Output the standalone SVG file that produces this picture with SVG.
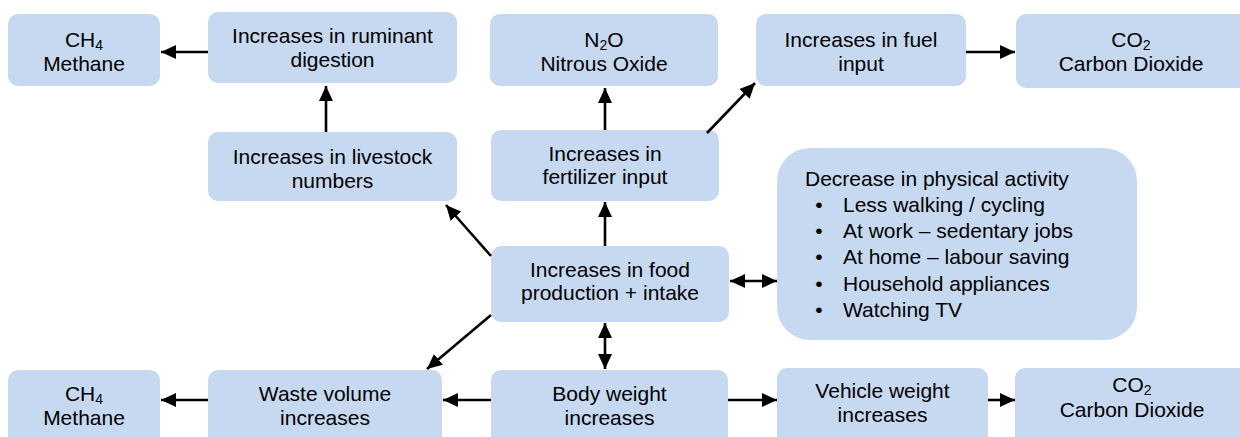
<svg xmlns="http://www.w3.org/2000/svg" width="1240" height="437" viewBox="0 0 1240 437">
<style>
.box{fill:#c6d9f0;}
text{font-family:"Liberation Sans",Arial,sans-serif;font-size:21px;fill:#000;}
.c{text-anchor:middle;}
.sub{font-size:14px;}
.conn line{stroke:#000;stroke-width:2.6;fill:none;}
</style>
<defs>
<marker id="ah" markerUnits="userSpaceOnUse" markerWidth="15" markerHeight="14" refX="15" refY="7" orient="auto-start-reverse" viewBox="0 0 15 14">
<path d="M0,0 L15,7 L0,14 z" fill="#000"/>
</marker>
</defs>
<rect width="1240" height="437" fill="#fff"/>

<g id="ch4-top">
<rect class="box" x="8" y="14" width="152" height="72" rx="10"/>
<text class="c" x="84" y="47">CH<tspan class="sub" dy="3">4</tspan></text>
<text class="c" x="84" y="71">Methane</text>
</g>
<g id="ruminant">
<rect class="box" x="208" y="12" width="249" height="71" rx="10"/>
<text class="c" x="332.5" y="43">Increases in ruminant</text>
<text class="c" x="332.5" y="67">digestion</text>
</g>
<g id="livestock">
<rect class="box" x="208" y="132" width="249" height="69" rx="10"/>
<text class="c" x="332.5" y="164">Increases in livestock</text>
<text class="c" x="332.5" y="188">numbers</text>
</g>
<g id="n2o">
<rect class="box" x="490" y="14" width="228" height="72" rx="10"/>
<text class="c" x="604" y="47">N<tspan class="sub" dy="3">2</tspan><tspan dy="-3">O</tspan></text>
<text class="c" x="604" y="71">Nitrous Oxide</text>
</g>
<g id="fuel">
<rect class="box" x="756" y="14" width="210" height="72" rx="10"/>
<text class="c" x="861" y="47">Increases in fuel</text>
<text class="c" x="861" y="71">input</text>
</g>
<g id="co2-top">
<rect class="box" x="1016" y="14" width="240" height="74" rx="10"/>
<text class="c" x="1131" y="47">CO<tspan class="sub" dy="3">2</tspan></text>
<text class="c" x="1131" y="71">Carbon Dioxide</text>
</g>
<g id="fertilizer">
<rect class="box" x="491" y="130" width="228" height="71" rx="10"/>
<text class="c" x="605" y="161">Increases in</text>
<text class="c" x="605" y="184">fertilizer input</text>
</g>
<g id="food">
<rect class="box" x="491" y="246" width="238" height="76" rx="10"/>
<text class="c" x="610" y="277">Increases in food</text>
<text class="c" x="610" y="300">production + intake</text>
</g>
<g id="activity">
<rect class="box" x="777" y="148" width="360" height="192" rx="33"/>
<text x="805" y="186">Decrease in physical activity</text>
<text class="c" x="819" y="212">•</text>
<text x="843" y="212">Less walking / cycling</text>
<text class="c" x="819" y="238">•</text>
<text x="843" y="238">At work – sedentary jobs</text>
<text class="c" x="819" y="264">•</text>
<text x="843" y="264">At home – labour saving</text>
<text class="c" x="819" y="291">•</text>
<text x="843" y="291">Household appliances</text>
<text class="c" x="819" y="317">•</text>
<text x="843" y="317">Watching TV</text>
</g>
<g id="ch4-bottom">
<rect class="box" x="8" y="370" width="152" height="76" rx="10"/>
<text class="c" x="84" y="401">CH<tspan class="sub" dy="3">4</tspan></text>
<text class="c" x="84" y="425">Methane</text>
</g>
<g id="waste">
<rect class="box" x="208" y="370" width="234" height="76" rx="10"/>
<text class="c" x="325" y="401">Waste volume</text>
<text class="c" x="325" y="425">increases</text>
</g>
<g id="body">
<rect class="box" x="491" y="370" width="237" height="76" rx="10"/>
<text class="c" x="609.5" y="401">Body weight</text>
<text class="c" x="609.5" y="425">increases</text>
</g>
<g id="vehicle">
<rect class="box" x="777" y="368" width="211" height="78" rx="10"/>
<text class="c" x="882.5" y="398">Vehicle weight</text>
<text class="c" x="882.5" y="422">increases</text>
</g>
<g id="co2-bottom">
<rect class="box" x="1015" y="368" width="240" height="78" rx="10"/>
<text class="c" x="1132" y="392">CO<tspan class="sub" dy="3">2</tspan></text>
<text class="c" x="1132" y="417">Carbon Dioxide</text>
</g>

<g class="conn">
<line x1="208" y1="52" x2="161" y2="52" marker-end="url(#ah)"/>
<line x1="326" y1="132" x2="326" y2="86" marker-end="url(#ah)"/>
<line x1="605" y1="130" x2="605" y2="88" marker-end="url(#ah)"/>
<line x1="707" y1="133" x2="755" y2="83" marker-end="url(#ah)"/>
<line x1="966" y1="52" x2="1015" y2="52" marker-end="url(#ah)"/>
<line x1="605" y1="246" x2="605" y2="202" marker-end="url(#ah)"/>
<line x1="491" y1="256" x2="446" y2="205" marker-end="url(#ah)"/>
<line x1="730" y1="281" x2="777" y2="281" marker-start="url(#ah)" marker-end="url(#ah)"/>
<line x1="491" y1="315" x2="427" y2="369" marker-end="url(#ah)"/>
<line x1="605" y1="323" x2="605" y2="369" marker-start="url(#ah)" marker-end="url(#ah)"/>
<line x1="208" y1="400" x2="161" y2="400" marker-end="url(#ah)"/>
<line x1="491" y1="400" x2="443" y2="400" marker-end="url(#ah)"/>
<line x1="728" y1="400" x2="777" y2="400" marker-end="url(#ah)"/>
<line x1="988" y1="400" x2="1015" y2="400" marker-end="url(#ah)"/>
</g>
</svg>
